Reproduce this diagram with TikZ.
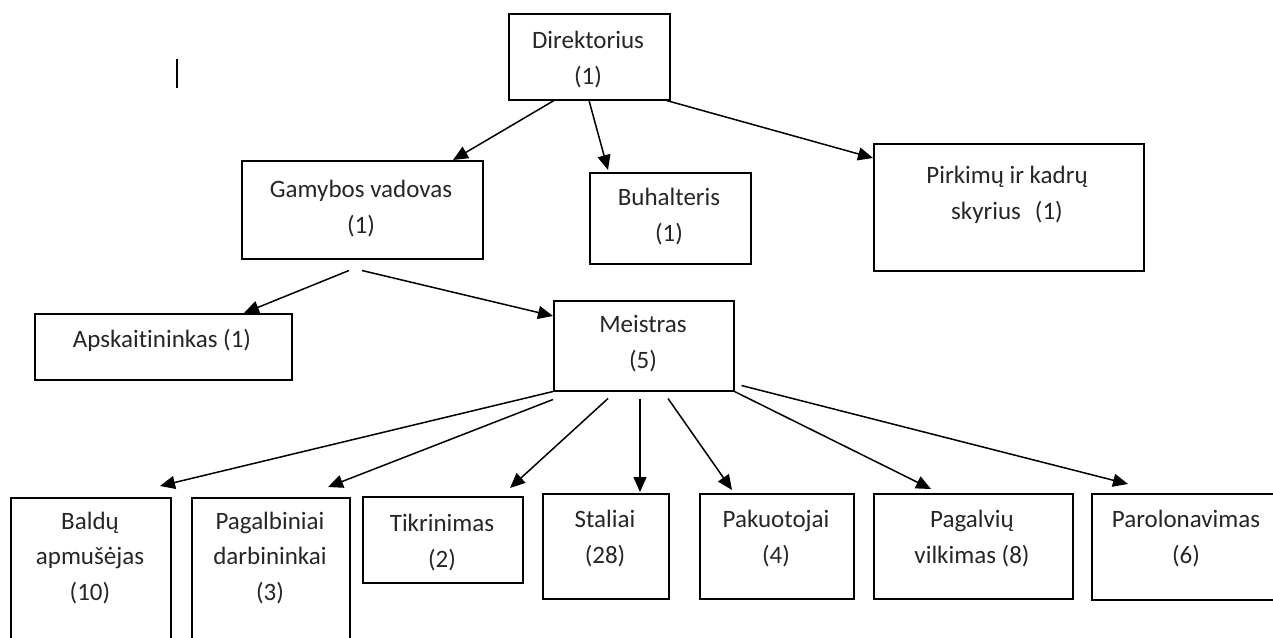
\documentclass[tikz,border=0pt]{standalone}
\usepackage{fontspec}
\setmainfont{Carlito}[Ligatures=NoCommon]
\usetikzlibrary{arrows.meta,calc}
\begin{document}
\begin{tikzpicture}[x=1pt,y=-1pt,
  box/.style={draw, line width=1.5pt, inner sep=0pt, anchor=north west},
  lbl/.style={anchor=base, align=center, font=\fontsize{25}{35.5}\selectfont, inner sep=0pt, text=black!85},
  arr/.style={line width=1.5pt, -{Triangle[length=15pt,width=13pt]}}]
\clip (0,0) rectangle (1273,637);
\fill[white] (0,0) rectangle (1273,637);
% stray text cursor
\draw[line width=2pt] (177,59) -- (177,88);
% boxes
\node[box, minimum width=161pt, minimum height=86pt] (dir) at (508,13) {};
\node[box, minimum width=241pt, minimum height=98pt] (gam) at (241,160) {};
\node[box, minimum width=161pt, minimum height=91pt] (buh) at (589,172) {};
\node[box, minimum width=270pt, minimum height=127pt] (pirk) at (873,143) {};
\node[box, minimum width=257pt, minimum height=66pt] (apsk) at (34,313) {};
\node[box, minimum width=180pt, minimum height=90pt] (mei) at (553,300) {};
\node[box, minimum width=160pt, minimum height=160pt] (bald) at (10,497) {};
\node[box, minimum width=158pt, minimum height=160pt] (pag) at (191,497) {};
\node[box, minimum width=160pt, minimum height=86pt] (tik) at (362,496) {};
\node[box, minimum width=126pt, minimum height=105pt] (sta) at (542,493) {};
\node[box, minimum width=154pt, minimum height=105pt] (pak) at (699,493) {};
\node[box, minimum width=199pt, minimum height=105pt] (pgv) at (873,493) {};
\node[box, minimum width=260pt, minimum height=106pt] (par) at (1091,493) {};
% texts (anchor = baseline of last line)
\node[lbl] (dirT) at (588,84) {Direktorius\\(1)};
\node[lbl] (gamT) at (361,233) {Gamybos vadovas\\(1)};
\node[lbl] (buhT) at (669,241) {Buhalteris\\(1)};
\node[lbl] (pirkT) at (1007,219) {Pirkimų ir kadrų\\skyrius\hspace{14pt}(1)};
\node[lbl] (apskT) at (162,347) {Apskaitininkas (1)};
\node[lbl] (meiT) at (643,368) {Meistras\\(5)};
\node[lbl] (baldT) at (90,600) {Baldų\\apmušėjas\\(10)};
\node[lbl] (pagT) at (270,600) {Pagalbiniai\\darbininkai\\(3)};
\node[lbl] (tikT) at (442,567) {Tikrinimas\\(2)};
\node[lbl] (staT) at (605,563) {Staliai\\(28)};
\node[lbl] (pakT) at (776,563) {Pakuotojai\\(4)};
\node[lbl] (pgvT) at (972,563) {Pagalvių\\vilkimas (8)};
\node[lbl] (parT) at (1186,563) {Parolonavimas\\(6)};
% connectors
\draw[arr] ($(dir.south west)+(46,0)$) -- ($(gam.north west)+(212,0)$);
\draw[arr] ($(dir.south west)+(81,0)$) -- ($(buh.north west)+(19,-2)$);
\draw[arr] ($(dir.south east)+(-4,0)$) -- ($(pirk.north west)+(0,15)$);
\draw[arr] ($(gam.south west)+(108,11)$) -- ($(apsk.north west)+(210,0)$);
\draw[arr] ($(gam.south west)+(121,11)$) -- ($(mei.north west)+(0,16)$);
\draw[arr] (mei.south west) -- ($(bald.north west)+(150,-11)$);
\draw[arr] ($(mei.south west)+(0,8)$) -- ($(pag.north west)+(137,-10)$);
\draw[arr] ($(mei.south west)+(55,7)$) -- ($(tik.north west)+(148,-8)$);
\draw[arr] ($(mei.south west)+(87,7)$) -- ($(sta.north west)+(98,-1)$);
\draw[arr] ($(mei.south west)+(115,7)$) -- ($(pak.north west)+(33,-3)$);
\draw[arr] (mei.south east) -- ($(pgv.north west)+(58,-4)$);
\draw[arr] ($(mei.south east)+(7,-6)$) -- ($(par.north west)+(37,-9)$);
\end{tikzpicture}
\end{document}
